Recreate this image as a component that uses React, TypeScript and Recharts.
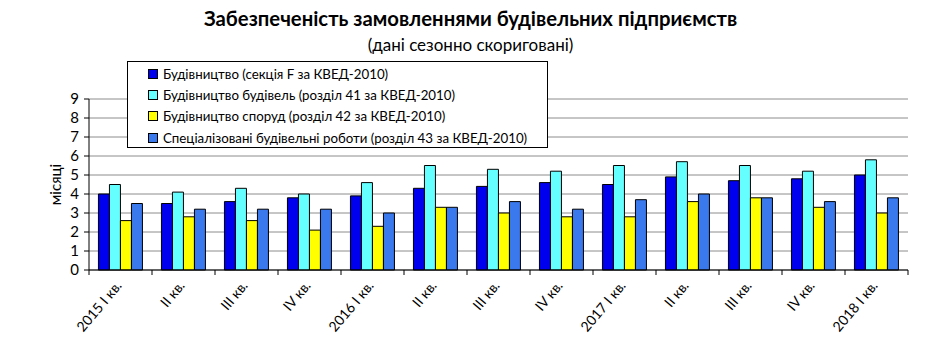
import React from 'react';
import { BarChart, Bar, XAxis, YAxis, CartesianGrid, Legend } from 'recharts';

const categories = ['2015 I кв.', 'II кв.', 'III кв.', 'IV кв.', '2016 I кв.', 'II кв.', 'III кв.', 'IV кв.', '2017 I кв.', 'II кв.', 'III кв.', 'IV кв.', '2018 I кв.'];
const constructionF = [4.0, 3.5, 3.6, 3.8, 3.9, 4.3, 4.4, 4.6, 4.5, 4.9, 4.7, 4.8, 5.0];
const buildings41 = [4.5, 4.1, 4.3, 4.0, 4.6, 5.5, 5.3, 5.2, 5.5, 5.7, 5.5, 5.2, 5.8];
const civil42 = [2.6, 2.8, 2.6, 2.1, 2.3, 3.3, 3.0, 2.8, 2.8, 3.6, 3.8, 3.3, 3.0];
const specialized43 = [3.5, 3.2, 3.2, 3.2, 3.0, 3.3, 3.6, 3.2, 3.7, 4.0, 3.8, 3.6, 3.8];
const yTicks = [0, 1, 2, 3, 4, 5, 6, 7, 8, 9];

const seriesNames = [
  'Будівництво (секція F за КВЕД-2010)',
  'Будівництво будівель (розділ 41 за КВЕД-2010)',
  'Будівництво споруд (розділ 42 за КВЕД-2010)',
  'Спеціалізовані будівельні роботи (розділ 43 за КВЕД-2010)',
];
const colors = ['#0000EE', '#66FFFF', '#FFFF00', '#3A78EE'];

const data = categories.map((c, i) => ({
  name: c,
  f: constructionF[i],
  b41: buildings41[i],
  s42: civil42[i],
  r43: specialized43[i],
}));

const W = 941;
const H = 360;
const LEFT = 89;
const RIGHT_M = 33;
const PLOT_W = W - LEFT - RIGHT_M;
const FONT = 'Lato, "Open Sans", sans-serif';

const XTick = (props: any) => {
  const { x, y, payload, index } = props;
  const bw = PLOT_W / categories.length;
  return (
    <g>
      <line x1={x - bw / 2} x2={x - bw / 2} y1={y} y2={y + 5} stroke="#000" />
      {index === categories.length - 1 && (
        <line x1={x + bw / 2} x2={x + bw / 2} y1={y} y2={y + 5} stroke="#000" />
      )}
      <text
        transform={`translate(${x + 2},${y + 16}) rotate(-50)`}
        textAnchor="end"
        fontSize={14}
        fontFamily={FONT}
        fill="#000"
      >
        {payload.value}
      </text>
    </g>
  );
};

const LegendContent = () => (
  <div
    style={{
      width: 419,
      height: 84,
      border: '1px solid #000',
      background: '#fff',
      fontFamily: FONT,
      fontSize: 13.3,
      color: '#000',
      boxSizing: 'content-box',
      paddingTop: 1,
    }}
  >
    {seriesNames.map((n, i) => (
      <div key={n} style={{ display: 'flex', alignItems: 'center', height: 21.3, paddingLeft: 20 }}>
        <span
          style={{
            display: 'inline-block',
            width: 8,
            height: 8,
            border: '1px solid #000',
            background: colors[i],
            marginRight: 5,
          }}
        />
        <span>{n}</span>
      </div>
    ))}
  </div>
);

export default function App() {
  return (
    <div style={{ position: 'absolute', left: 0, top: 0, width: W, height: H, background: '#fff' }}>
      <div
        style={{
          position: 'absolute',
          left: 0,
          top: 6,
          width: W,
          textAlign: 'center',
          fontFamily: FONT,
          fontWeight: 'bold',
          fontSize: 20.3,
          color: '#000',
          zIndex: 2,
        }}
      >
        Забезпеченість замовленнями будівельних підприємств
      </div>
      <div
        style={{
          position: 'absolute',
          left: 0,
          top: 34,
          width: W,
          textAlign: 'center',
          fontFamily: FONT,
          fontSize: 17,
          color: '#000',
          zIndex: 2,
        }}
      >
        (дані сезонно скориговані)
      </div>
      <BarChart
        width={W}
        height={H}
        data={data}
        margin={{ top: 99, right: RIGHT_M, left: 0, bottom: 0 }}
        barCategoryGap="15%"
        barGap={0}
      >
        <CartesianGrid vertical={false} stroke="#8c8c8c" />
        <XAxis
          dataKey="name"
          height={90}
          interval={0}
          tickSize={0}
          tickMargin={0}
          tickLine={false}
          axisLine={{ stroke: '#000' }}
          tick={<XTick />}
        />
        <YAxis
          width={LEFT}
          domain={[0, 9]}
          ticks={yTicks}
          interval={0}
          tickSize={5}
          tickMargin={5}
          tickLine={{ stroke: '#000' }}
          axisLine={{ stroke: '#000' }}
          tick={{ fontSize: 15, fontFamily: FONT, fill: '#000' }}
          label={{ value: 'місяці', angle: -90, position: 'insideLeft', offset: 56, style: { fontSize: 15, fontFamily: FONT, fill: '#000', textAnchor: 'middle' } }}
        />
        <YAxis
          yAxisId="right"
          orientation="right"
          width={0}
          domain={[0, 9]}
          tick={false}
          tickLine={false}
          axisLine={{ stroke: '#8c8c8c' }}
        />
        <Legend
          layout="horizontal"
          verticalAlign="middle"
          align="center"
          content={<LegendContent />}
          wrapperStyle={{ position: 'absolute', left: 127, top: 61, width: 'auto', height: 'auto' }}
        />
        <Bar dataKey="f" name={seriesNames[0]} fill={colors[0]} stroke="#000" strokeWidth={1} isAnimationActive={false} />
        <Bar dataKey="b41" name={seriesNames[1]} fill={colors[1]} stroke="#000" strokeWidth={1} isAnimationActive={false} />
        <Bar dataKey="s42" name={seriesNames[2]} fill={colors[2]} stroke="#000" strokeWidth={1} isAnimationActive={false} />
        <Bar dataKey="r43" name={seriesNames[3]} fill={colors[3]} stroke="#000" strokeWidth={1} isAnimationActive={false} />
      </BarChart>
    </div>
  );
}
